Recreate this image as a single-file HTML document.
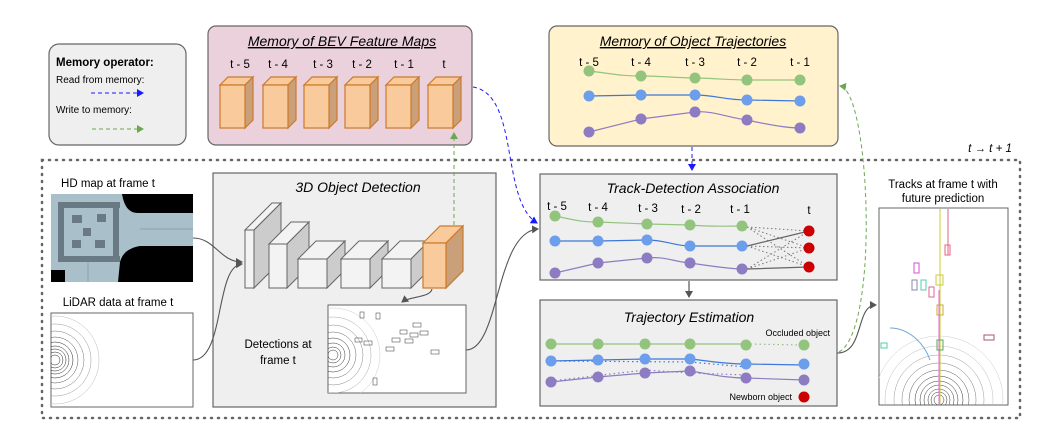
<!DOCTYPE html>
<html><head><meta charset="utf-8"><style>
html,body{margin:0;padding:0;background:#fff;width:1062px;height:441px;overflow:hidden;}
svg{display:block;font-family:"Liberation Sans",sans-serif;vertical-align:top;}
</style></head><body>
<svg width="1062" height="441" viewBox="0 0 1062 441" xmlns="http://www.w3.org/2000/svg">
<defs>
<marker id="ab" markerWidth="8" markerHeight="8" refX="6" refY="4" orient="auto" markerUnits="userSpaceOnUse"><path d="M0,0 L7,4 L0,8 z" fill="#1a1aff"/></marker>
<marker id="ag" markerWidth="8" markerHeight="8" refX="6" refY="4" orient="auto" markerUnits="userSpaceOnUse"><path d="M0,0 L7,4 L0,8 z" fill="#6aa84f"/></marker>
<marker id="ak" markerWidth="8" markerHeight="8" refX="6" refY="4" orient="auto" markerUnits="userSpaceOnUse"><path d="M0,0 L7,4 L0,8 z" fill="#555"/></marker>
<clipPath id="c1"><rect x="51" y="313" width="142" height="94"/></clipPath>
<clipPath id="c2"><rect x="328" y="305" width="138" height="88"/></clipPath>
<clipPath id="c3"><rect x="879" y="208" width="129" height="197"/></clipPath>
<clipPath id="c4"><rect x="51" y="194" width="142" height="88"/></clipPath>
</defs>

<rect x="42" y="160" width="978" height="258" fill="none" stroke="#666" stroke-width="2.5" stroke-dasharray="1,6" stroke-linecap="round"/>
<text x="990" y="152" font-size="11.5" font-style="italic" text-anchor="middle">t → t + 1</text>

<rect x="49" y="44" width="137" height="101" rx="10" fill="#efefef" stroke="#666" stroke-width="1.2"/>
<text x="56" y="66" font-size="11.5" font-weight="bold">Memory operator:</text>
<text x="56" y="83" font-size="10">Read from memory:</text>
<line x1="91" y1="93" x2="143" y2="93" stroke="#1a1aff" stroke-width="1" stroke-dasharray="4,3" marker-end="url(#ab)"/>
<text x="56" y="113" font-size="10">Write to memory:</text>
<line x1="92" y1="129" x2="143" y2="129" stroke="#6aa84f" stroke-width="1" stroke-dasharray="4,3" marker-end="url(#ag)"/>

<rect x="208" y="26" width="264" height="119" rx="8" fill="#ead1dc" stroke="#666" stroke-width="1.2"/>
<text x="342" y="46" font-size="14" font-style="italic" text-anchor="middle" text-decoration="underline">Memory of BEV Feature Maps</text>
<g font-size="11.5" text-anchor="middle">
<text x="240" y="68">t - 5</text><text x="278" y="68">t - 4</text><text x="323" y="68">t - 3</text><text x="362" y="68">t - 2</text><text x="404" y="68">t - 1</text><text x="444" y="68">t</text>
</g>
<g stroke="#cc7a29" stroke-width="1.2">
<g id="cube">
<path d="M220,85 L228,77 L253,77 L245,85 z" fill="#f9cb9c"/>
<path d="M245,85 L253,77 L253,120 L245,128 z" fill="#c9a07a"/>
<rect x="220" y="85" width="25" height="43" fill="#f9cb9c"/>
</g>
<use href="#cube" x="43"/><use href="#cube" x="84"/><use href="#cube" x="125"/><use href="#cube" x="166"/><use href="#cube" x="208"/>
</g>

<rect x="549" y="26" width="289" height="120" rx="8" fill="#fff2cc" stroke="#666" stroke-width="1.2"/>
<text x="693" y="46" font-size="14" font-style="italic" text-anchor="middle" text-decoration="underline">Memory of Object Trajectories</text>
<g font-size="11.5" text-anchor="middle">
<text x="589" y="66">t - 5</text><text x="641" y="66">t - 4</text><text x="695" y="66">t - 3</text><text x="747" y="66">t - 2</text><text x="800" y="66">t - 1</text>
</g>
<g fill="none" stroke-width="1.2">
<path d="M589,71 C615,74 620,76 641,76 S680,78 695,78 S730,80 747,80 S785,80 800,80" stroke="#93c47d"/>
<path d="M589,96 L641,95 L695,95 C715,95 725,100 747,100 L800,101" stroke="#3c78d8"/>
<path d="M589,132 L641,119 L695,112 C710,110 730,118 747,120 C765,124 785,128 800,128" stroke="#8e7cc3"/>
</g>
<g fill="#93c47d"><circle cx="589" cy="71" r="5.5"/><circle cx="641" cy="76" r="5.5"/><circle cx="695" cy="78" r="5.5"/><circle cx="747" cy="80" r="5.5"/><circle cx="800" cy="80" r="5.5"/></g>
<g fill="#6d9eeb"><circle cx="589" cy="96" r="5.5"/><circle cx="641" cy="95" r="5.5"/><circle cx="695" cy="95" r="5.5"/><circle cx="747" cy="100" r="5.5"/><circle cx="800" cy="101" r="5.5"/></g>
<g fill="#8e7cc3"><circle cx="589" cy="132" r="5.5"/><circle cx="641" cy="119" r="5.5"/><circle cx="695" cy="112" r="5.5"/><circle cx="747" cy="120" r="5.5"/><circle cx="800" cy="128" r="5.5"/></g>

<text x="108" y="187" font-size="11.5" text-anchor="middle">HD map at frame t</text>
<rect x="51" y="194" width="142" height="88" fill="#000"/>
<g clip-path="url(#c4)">
<path d="M51,194 L122,194 C124,205 128,213 138,213 L193,213 L193,246 L140,246 C128,248 122,254 120,262 L118,282 L65,282 L65,270 L51,270 z" fill="#a9bfc9"/>
<g fill="#5f6f78" opacity="0.85">
<rect x="58" y="202" width="62" height="6"/><rect x="58" y="256" width="62" height="6"/><rect x="58" y="202" width="6" height="60"/><rect x="113" y="202" width="6" height="60"/>
<rect x="83" y="228" width="8" height="8"/><rect x="72" y="215" width="10" height="8"/><rect x="95" y="240" width="10" height="8"/><rect x="97" y="214" width="9" height="8"/><rect x="72" y="240" width="9" height="8"/>
</g>
<line x1="140" y1="229" x2="193" y2="229" stroke="#8aa0aa" stroke-width="1"/>
<line x1="88" y1="262" x2="88" y2="282" stroke="#8aa0aa" stroke-width="1"/>
</g>

<text x="118" y="306" font-size="11.5" text-anchor="middle">LiDAR data at frame t</text>
<rect x="51" y="313" width="142" height="94" fill="#fff" stroke="#666" stroke-width="1"/>
<g fill="none" stroke="#222" stroke-width="0.5" clip-path="url(#c1)">
<circle cx="55" cy="360" r="5"/><circle cx="55" cy="360" r="8"/><circle cx="55" cy="360" r="11"/><circle cx="55" cy="360" r="14"/><circle cx="55" cy="360" r="18"/><circle cx="55" cy="360" r="23" stroke="#555"/><circle cx="55" cy="360" r="29" stroke="#777"/><circle cx="55" cy="360" r="36" stroke="#999"/><circle cx="55" cy="360" r="44" stroke="#bbb"/>
</g>

<rect x="213" y="173" width="283" height="234" fill="#efefef" stroke="#666" stroke-width="1.2"/>
<text x="358" y="192" font-size="14" font-style="italic" text-anchor="middle">3D Object Detection</text>
<g stroke="#666" stroke-width="1">
<path d="M245,230 L272,203 L281,203 L254,230 z" fill="#f3f3f3"/><path d="M254,230 L281,203 L281,261 L254,288 z" fill="#cccccc"/><rect x="245" y="230" width="9" height="58" fill="#f3f3f3"/>
<path d="M269,244 L291,222 L309,222 L287,244 z" fill="#f3f3f3"/><path d="M287,244 L309,222 L309,266 L287,288 z" fill="#cccccc"/><rect x="269" y="244" width="18" height="44" fill="#f3f3f3"/>
<path d="M298,259 L316,241 L345,241 L327,259 z" fill="#f3f3f3"/><path d="M327,259 L345,241 L345,270 L327,288 z" fill="#cccccc"/><rect x="298" y="259" width="29" height="29" fill="#f3f3f3"/>
<path d="M341,259 L359,241 L388,241 L370,259 z" fill="#f3f3f3"/><path d="M370,259 L388,241 L388,270 L370,288 z" fill="#cccccc"/><rect x="341" y="259" width="29" height="29" fill="#f3f3f3"/>
<path d="M382,259 L400,241 L429,241 L411,259 z" fill="#f3f3f3"/><path d="M411,259 L429,241 L429,270 L411,288 z" fill="#cccccc"/><rect x="382" y="259" width="29" height="29" fill="#f3f3f3"/>
</g>
<g stroke="#cc7a29" stroke-width="1.2">
<path d="M423,243 L440,226 L463,226 L446,243 z" fill="#f9cb9c"/><path d="M446,243 L463,226 L463,271 L446,288 z" fill="#c9a07a"/><rect x="423" y="243" width="23" height="45" fill="#f9cb9c"/>
</g>
<text x="278" y="348" font-size="11.5" text-anchor="middle">Detections at</text>
<text x="278" y="364" font-size="11.5" text-anchor="middle">frame t</text>
<rect x="328" y="305" width="138" height="88" fill="#fff" stroke="#666" stroke-width="1"/>
<g fill="none" stroke="#333" stroke-width="0.5" clip-path="url(#c2)">
<circle cx="333" cy="355" r="5"/><circle cx="333" cy="355" r="8"/><circle cx="333" cy="355" r="12"/><circle cx="333" cy="355" r="17"/><circle cx="333" cy="355" r="23" stroke="#666"/><circle cx="333" cy="355" r="30" stroke="#888"/><circle cx="333" cy="355" r="38" stroke="#aaa"/><circle cx="333" cy="355" r="47" stroke="#ccc"/>
<rect x="364" y="341" width="8" height="4"/><rect x="392" y="338" width="8" height="4"/><rect x="405" y="339" width="8" height="4"/><rect x="410" y="333" width="8" height="4"/><rect x="420" y="331" width="8" height="4"/><rect x="431" y="350" width="8" height="4"/><rect x="355" y="338" width="7" height="4"/><rect x="386" y="347" width="8" height="4"/><rect x="360" y="312" width="4" height="6"/><rect x="376" y="313" width="4" height="6"/><rect x="413" y="323" width="8" height="4"/><rect x="400" y="330" width="7" height="4"/><rect x="373" y="378" width="4" height="7"/>
</g>

<rect x="540" y="174" width="297" height="106" fill="#efefef" stroke="#666" stroke-width="1.2"/>
<text x="693" y="193" font-size="14" font-style="italic" text-anchor="middle">Track-Detection Association</text>
<g font-size="11.5" text-anchor="middle">
<text x="557" y="210">t - 5</text><text x="598" y="211">t - 4</text><text x="648" y="212">t - 3</text><text x="691" y="213">t - 2</text><text x="740" y="213">t - 1</text><text x="809" y="214">t</text>
</g>
<g fill="none" stroke="#777" stroke-width="1" stroke-dasharray="1.5,2.5">
<path d="M747,227 L809,231 M747,227 L809,248 M747,227 L809,267 M747,246 L809,248 M747,246 L809,267 M747,269 L809,231 M747,269 L809,248"/>
</g>
<g fill="none" stroke="#666" stroke-width="1.3"><path d="M747,246 L809,231 M747,269 L809,267"/></g>
<g fill="none" stroke-width="1.2">
<path d="M555,216 C575,220 580,222 598,222 L647,224 L690,225 C710,227 730,226 742,226" stroke="#93c47d"/>
<path d="M555,241 L598,241 L647,240 C665,240 675,246 690,246 L742,246" stroke="#3c78d8"/>
<path d="M555,273 L598,263 L647,258 C665,256 675,262 690,263 C710,266 730,269 742,269" stroke="#8e7cc3"/>
</g>
<g fill="#93c47d"><circle cx="555" cy="216" r="5.5"/><circle cx="598" cy="222" r="5.5"/><circle cx="647" cy="224" r="5.5"/><circle cx="690" cy="225" r="5.5"/><circle cx="742" cy="226" r="5.5"/></g>
<g fill="#6d9eeb"><circle cx="555" cy="241" r="5.5"/><circle cx="598" cy="241" r="5.5"/><circle cx="647" cy="240" r="5.5"/><circle cx="690" cy="246" r="5.5"/><circle cx="742" cy="246" r="5.5"/></g>
<g fill="#8e7cc3"><circle cx="555" cy="273" r="5.5"/><circle cx="598" cy="263" r="5.5"/><circle cx="647" cy="258" r="5.5"/><circle cx="690" cy="263" r="5.5"/><circle cx="742" cy="269" r="5.5"/></g>
<g fill="#cc0000"><circle cx="809" cy="231" r="5.5"/><circle cx="809" cy="248" r="5.5"/><circle cx="809" cy="267" r="5.5"/></g>

<line x1="689" y1="281" x2="689" y2="297" stroke="#555" stroke-width="1.2" marker-end="url(#ak)"/>
<rect x="540" y="300" width="297" height="106" fill="#efefef" stroke="#666" stroke-width="1.2"/>
<text x="689" y="322" font-size="14" font-style="italic" text-anchor="middle">Trajectory Estimation</text>
<text x="830" y="336" font-size="9" text-anchor="end">Occluded object</text>
<text x="792" y="400" font-size="9" text-anchor="end">Newborn object</text>
<g fill="none" stroke-width="1.2">
<path d="M551,344 L746,344" stroke="#93c47d"/>
<path d="M746,344 L804,345" stroke="#93c47d" stroke-dasharray="1.5,3"/>
<path d="M551,361 L598,360 L645,359 L690,359 C710,361 725,364 746,364 L804,365" stroke="#3c78d8"/>
<path d="M551,361 L690,362 L746,367" stroke="#3c78d8" stroke-dasharray="1.5,3"/>
<path d="M551,382 L598,377 L645,373 L690,371 C710,374 725,378 746,378 L804,380" stroke="#8e7cc3"/>
<path d="M551,381 L645,370 L690,373 L746,375" stroke="#8e7cc3" stroke-dasharray="1.5,3"/>
</g>
<g fill="#93c47d"><circle cx="551" cy="344" r="5.5"/><circle cx="598" cy="344" r="5.5"/><circle cx="645" cy="344" r="5.5"/><circle cx="690" cy="344" r="5.5"/><circle cx="746" cy="345" r="5.5"/><circle cx="804" cy="345" r="5.5"/></g>
<g fill="#6d9eeb"><circle cx="551" cy="361" r="5.5"/><circle cx="598" cy="360" r="5.5"/><circle cx="645" cy="359" r="5.5"/><circle cx="690" cy="359" r="5.5"/><circle cx="746" cy="364" r="5.5"/><circle cx="804" cy="364" r="5.5"/></g>
<g fill="#8e7cc3"><circle cx="551" cy="382" r="5.5"/><circle cx="598" cy="377" r="5.5"/><circle cx="645" cy="373" r="5.5"/><circle cx="690" cy="371" r="5.5"/><circle cx="746" cy="378" r="5.5"/><circle cx="804" cy="380" r="5.5"/></g>
<circle cx="804" cy="397" r="5.5" fill="#cc0000"/>

<text x="943" y="188" font-size="11.5" text-anchor="middle">Tracks at frame t with</text>
<text x="943" y="202" font-size="11.5" text-anchor="middle">future prediction</text>
<rect x="879" y="208" width="129" height="197" fill="#fff" stroke="#666" stroke-width="1"/>
<g clip-path="url(#c3)">
<g fill="none" stroke="#333" stroke-width="0.5">
<circle cx="939" cy="400" r="5"/><circle cx="939" cy="400" r="8"/><circle cx="939" cy="400" r="11"/><circle cx="939" cy="400" r="15"/><circle cx="939" cy="400" r="19"/><circle cx="939" cy="400" r="24"/><circle cx="939" cy="400" r="30" stroke="#555"/><circle cx="939" cy="400" r="37" stroke="#777"/><circle cx="939" cy="400" r="45" stroke="#999"/><circle cx="939" cy="400" r="54" stroke="#bbb"/><circle cx="939" cy="400" r="64" stroke="#ccc"/>
</g>
<g fill="none" stroke-width="1">
<line x1="940" y1="209" x2="940" y2="404" stroke="#cccc33"/>
<line x1="939" y1="290" x2="939" y2="404" stroke="#e06fd0"/>
<line x1="948" y1="209" x2="948" y2="255" stroke="#e06680"/>
<rect x="945" y="245" width="5" height="10" stroke="#e06680"/>
<rect x="914" y="263" width="5" height="10" stroke="#cc55cc"/>
<rect x="912" y="280" width="5" height="10" stroke="#8888aa"/>
<rect x="921" y="280" width="5" height="10" stroke="#55ccaa"/>
<rect x="929" y="287" width="5" height="10" stroke="#e06690"/>
<rect x="936" y="275" width="7" height="10" stroke="#cccc33"/>
<rect x="937" y="305" width="6" height="10" stroke="#ccaa33"/>
<rect x="937" y="340" width="6" height="10" stroke="#55aa55"/>
<rect x="984" y="335" width="10" height="5" stroke="#aa5577"/>
<path d="M890,328 C910,328 925,345 930,360" stroke="#6fa8dc"/>
<rect x="881" y="343" width="6" height="5" stroke="#55ccaa"/>
</g>
</g>

<g fill="none" stroke="#555" stroke-width="1.1">
<path d="M193,238 C215,238 220,262 242,262" marker-end="url(#ak)"/>
<path d="M193,360 C225,360 215,265 242,264" marker-end="url(#ak)"/>
<path d="M432,289 C430,298 410,296 402,302" marker-end="url(#ak)"/>
<path d="M466,350 C500,350 495,232 538,229" marker-end="url(#ak)"/>
<path d="M837,353 C865,353 855,305 876,305" marker-end="url(#ak)"/>
</g>
<path d="M454,225 L454,133" fill="none" stroke="#6aa84f" stroke-width="1" stroke-dasharray="4,3" marker-end="url(#ag)"/>
<path d="M473,87 C520,95 500,200 537,223" fill="none" stroke="#1a1aff" stroke-width="1" stroke-dasharray="4,3" marker-end="url(#ab)"/>
<path d="M692,147 L692,170" fill="none" stroke="#1a1aff" stroke-width="1" stroke-dasharray="4,3" marker-end="url(#ab)"/>
<path d="M839,352 C880,330 870,90 840,86" fill="none" stroke="#6aa84f" stroke-width="1" stroke-dasharray="4,3" marker-end="url(#ag)"/>
</svg>
</body></html>
